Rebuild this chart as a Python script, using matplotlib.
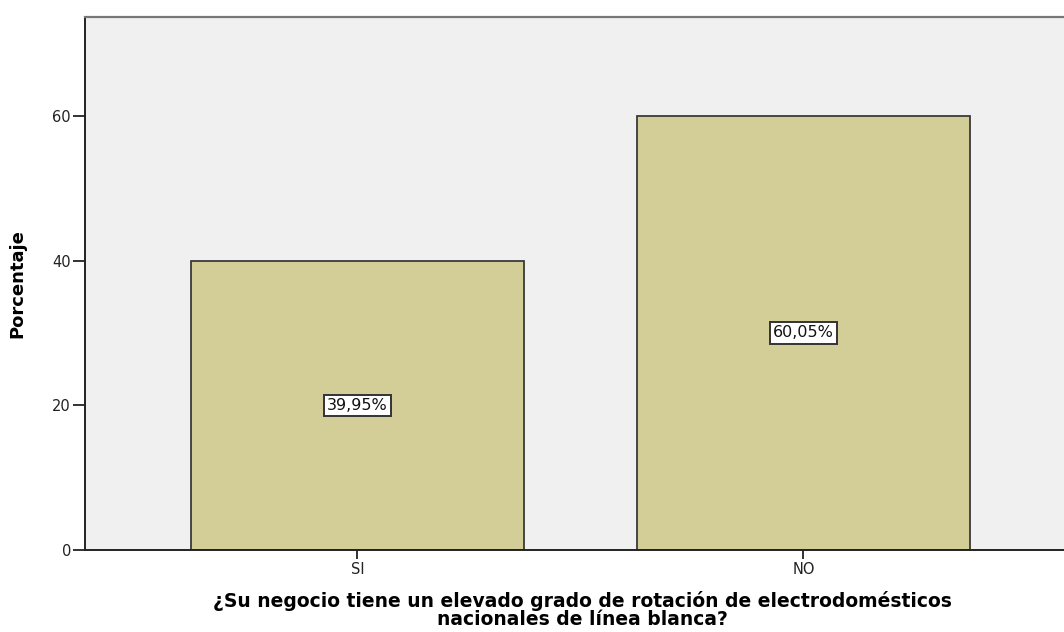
import matplotlib
matplotlib.use('Agg')
import matplotlib.pyplot as plt

# Data
categories = ['SI', 'NO']
percentages = [39.95, 60.05]
bar_labels = ['39,95%', '60,05%']
y_ticks = [0, 20, 40, 60]

fig = plt.figure(figsize=(10.64, 6.32), dpi=100)
# plot area runs past the right edge of the image, as in the reference
ax = fig.add_axes([85 / 1064, 1 - 550 / 632, (1079 - 85) / 1064, (550 - 17) / 632])
ax.set_facecolor('#F0F0F0')

x = list(range(len(categories)))
ax.bar(x, percentages, width=0.747, color='#D3CE98', edgecolor='#3a3a3a', linewidth=1.3, zorder=2)

for xi, val, lab in zip(x, percentages, bar_labels):
    ax.text(xi, val / 2, lab, ha='center', va='center', fontsize=11.5, color='#111111',
            bbox=dict(boxstyle='square,pad=0.2', facecolor='white', edgecolor='#333333', linewidth=1.4),
            zorder=3)

ax.set_xlim(-0.611, 1.618)
ax.set_ylim(0, 73.7)
ax.set_yticks(y_ticks)
ax.set_xticks(x)
ax.set_xticklabels(categories)

ax.tick_params(axis='both', direction='out', width=1.3, colors='#222222', labelsize=10.5)
ax.tick_params(axis='x', length=6.5, pad=2)
ax.tick_params(axis='y', length=8.5, pad=1.5)

for side in ['left', 'bottom']:
    ax.spines[side].set_color('#222222')
    ax.spines[side].set_linewidth(1.4)
ax.spines['top'].set_color('#777777')
ax.spines['top'].set_linewidth(1.6)
ax.spines['right'].set_visible(False)

ax.set_ylabel('Porcentaje', fontsize=13, fontweight='bold',
              family=['Liberation Sans Narrow', 'DejaVu Sans'], va='center')
ax.yaxis.set_label_coords(-0.068, 0.5)
ax.set_xlabel('¿Su negocio tiene un elevado grado de rotación de electrodomésticos\nnacionales de línea blanca?',
              fontsize=13.5, fontweight='bold', linespacing=0.95, va='top')
ax.xaxis.set_label_coords(0.5, -0.077)

fig.savefig('out.png', dpi=100, facecolor='white')
